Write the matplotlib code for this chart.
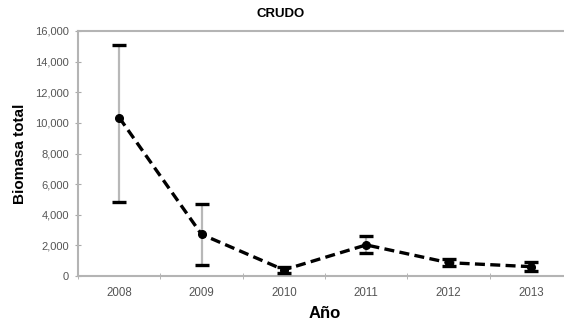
import numpy as np
import matplotlib
matplotlib.use('Agg')
import matplotlib.pyplot as plt
from matplotlib.ticker import FuncFormatter, MultipleLocator

plt.rcParams['font.family'] = ['Liberation Sans', 'DejaVu Sans']

years = ['2008', '2009', '2010', '2011', '2012', '2013']
biomasa = [10350, 2720, 400, 2030, 870, 610]
err_low = [4820, 720, 220, 1480, 670, 330]
err_high = [15080, 4720, 600, 2610, 1100, 930]

x = np.arange(len(years))
lower = np.array(biomasa) - np.array(err_low)
upper = np.array(err_high) - np.array(biomasa)

fig = plt.figure(figsize=(5.64, 3.27), dpi=100)
ax = fig.add_axes([78 / 564, 51 / 327, 494 / 564, 245 / 327])

_, caps, _ = ax.errorbar(x, biomasa, yerr=[lower, upper], fmt='none',
                         ecolor='#b8b8b8', elinewidth=1.6, capsize=4.7,
                         capthick=2.4, zorder=2)
for c in caps:
    c.set_markeredgecolor('black')
    c.set_zorder(3)
ax.plot(x, biomasa, color='black', linestyle=(0, (3, 1.6)), linewidth=2.4,
        marker='o', markersize=5.5, zorder=4)

ax.set_xlim(-0.5, 5.5)
ax.set_ylim(0, 16000)
ax.set_xticks(x)
ax.set_xticklabels(years)
ax.xaxis.set_minor_locator(MultipleLocator(1, offset=0.5))
ax.tick_params(axis='x', which='major', length=0, pad=8, labelsize=8.3,
               labelcolor='#555555')
ax.tick_params(axis='x', which='minor', direction='inout', length=5,
               color='#aaaaaa')
ax.yaxis.set_major_locator(MultipleLocator(2000))
ax.yaxis.set_major_formatter(FuncFormatter(lambda v, p: '{:,.0f}'.format(v)))
ax.tick_params(axis='y', direction='inout', length=5, color='#aaaaaa',
               labelsize=8, labelcolor='#555555', pad=4)

for side in ['left', 'bottom', 'top']:
    ax.spines[side].set_color('#b4b4b4')
    ax.spines[side].set_linewidth(1.5)
ax.spines['right'].set_visible(False)

ax.set_ylabel('Biomasa total', fontsize=11, fontweight='bold', labelpad=6)
ax.set_xlabel('Año', fontsize=12, fontweight='bold', labelpad=5)
fig.text(281 / 564, 1 - 14 / 327, 'CRUDO', fontsize=9.5, fontweight='bold',
         ha='center', va='center')

fig.savefig('out.png', dpi=100)
